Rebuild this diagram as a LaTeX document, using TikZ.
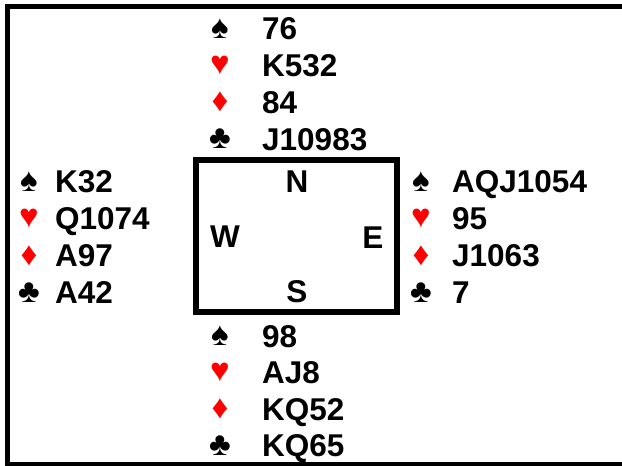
\documentclass[tikz,border=0pt]{standalone}
\usepackage{fontspec}
\setmainfont{Liberation Sans}
\usetikzlibrary{positioning}
\definecolor{suitred}{RGB}{255,0,0}
\newcommand{\spd}{\textcolor{black}{♠}}
\newcommand{\hrt}{\textcolor{suitred}{♥}}
\newcommand{\dmd}{\textcolor{suitred}{♦}}
\newcommand{\clb}{\textcolor{black}{♣}}
\tikzset{
  cards/.style={font=\fontsize{31.5}{32}\bfseries\selectfont,inner sep=0pt,anchor=west,text height=22.5pt,text depth=0pt},
  suit/.style={font=\fontsize{33}{33}\selectfont,inner sep=0pt},
  seat/.style={font=\fontsize{31.5}{32}\bfseries\selectfont,inner sep=0pt,text height=22.5pt,text depth=0pt}
}

\begin{document}
\begin{tikzpicture}[x=1pt,y=-1pt]
    \useasboundingbox (0,0) rectangle (622,466);
    % frame
    \draw[line width=5.5] (622,6.5) -| (7.5,464.5) -- (622,464.5);
    % table
    \draw[line width=6] (196,160) rectangle (397,311.5);
    \node[seat] (north) at (297,181.5) {N};
    \node[seat] (west) at (225,236.5) {W};
    \node[seat] (east) at (373,237) {E};
    \node[seat] (south) at (297,291) {S};
    % hands
    \foreach \s/\h [count=\i] in {\spd/76,\hrt/K532,\dmd/84,\clb/J10983} {
        \node[suit] (N-suit-\i) at (220,{28.5+36.8*(\i-1)}) {\s};
        \node[cards] (N-cards-\i) at (262,{28.5+36.8*(\i-1)}) {\h};
      }
    \foreach \s/\h [count=\i] in {\spd/K32,\hrt/Q1074,\dmd/A97,\clb/A42} {
        \node[suit] (W-suit-\i) at (29,{181.5+37*(\i-1)}) {\s};
        \node[cards] (W-cards-\i) at (55,{181.5+37*(\i-1)}) {\h};
      }
    \foreach \s/\h [count=\i] in {\spd/AQJ1054,\hrt/95,\dmd/J1063,\clb/7} {
        \node[suit] (E-suit-\i) at (421,{181.5+37*(\i-1)}) {\s};
        \node[cards] (E-cards-\i) at (452,{181.5+37*(\i-1)}) {\h};
      }
    \foreach \s/\h [count=\i] in {\spd/98,\hrt/AJ8,\dmd/KQ52,\clb/KQ65} {
        \node[suit] (S-suit-\i) at (220,{336+36.4*(\i-1)}) {\s};
        \node[cards] (S-cards-\i) at (262,{336+36.4*(\i-1)}) {\h};
      }
  \end{tikzpicture}
\end{document}
